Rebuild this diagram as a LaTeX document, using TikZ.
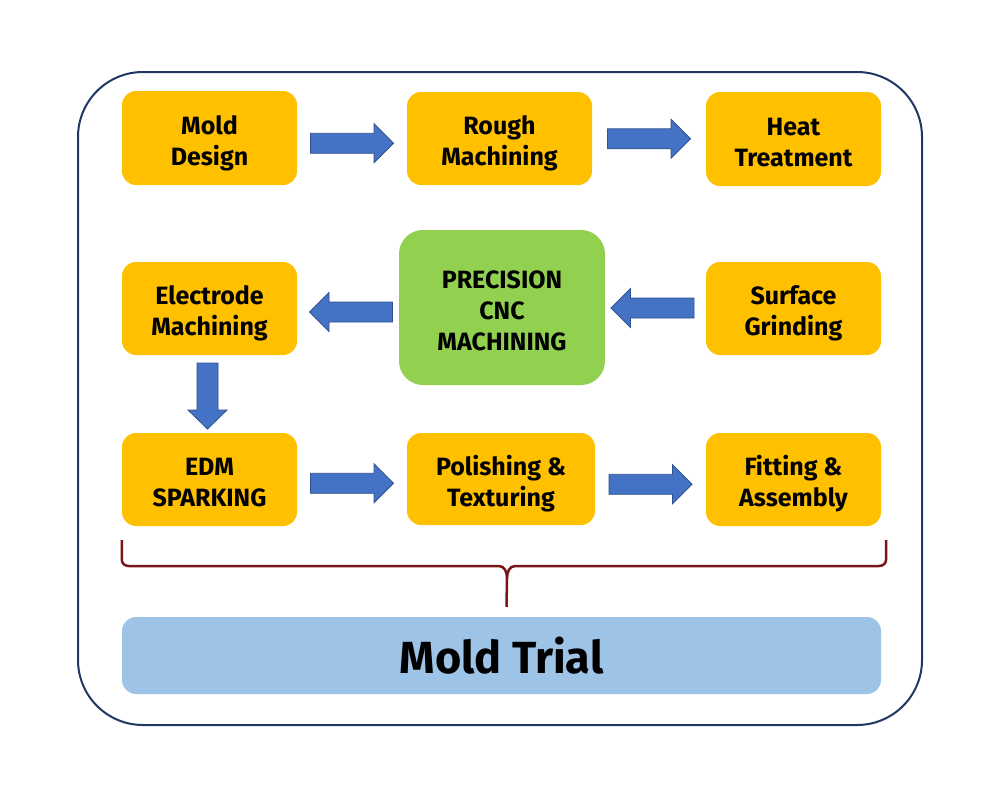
\documentclass[tikz,border=0pt]{standalone}
\usepackage{fontspec}
\setmainfont{Fira Sans}
\usetikzlibrary{calc}
\definecolor{boxorange}{HTML}{FFC000}
\definecolor{boxgreen}{HTML}{92D050}
\definecolor{arrowblue}{HTML}{4472C4}
\definecolor{arrowedge}{HTML}{2F528F}
\definecolor{trialblue}{HTML}{9DC3E6}
\definecolor{framenavy}{HTML}{1F3864}
\definecolor{bracered}{HTML}{7A1518}
\newcommand{\lowtext}[1]{\raisebox{-12pt}[0pt][0pt]{\begin{tabular}{@{}c@{}}#1\end{tabular}}}
\tikzset{
  stepbox/.style={fill=boxorange, rounded corners=14pt, minimum width=175pt, minimum height=94pt,
    align=center, inner sep=0pt, font=\fontsize{25}{31}\selectfont\bfseries},
  cncbox/.style={stepbox, fill=boxgreen, minimum width=206pt, minimum height=155pt, rounded corners=24pt},
  trialbox/.style={fill=trialblue, rounded corners=14pt, minimum width=759pt, minimum height=77pt,
    inner sep=0pt, font=\fontsize{45}{50}\selectfont\bfseries},
  barrow/.pic={\filldraw[fill=arrowblue, draw=arrowedge, line width=0.8pt, line join=miter]
    (-41.5,-10) -- (22,-10) -- (22,-19.5) -- (41.5,0) -- (22,19.5) -- (22,10) -- (-41.5,10) -- cycle;},
  sarrow/.pic={\filldraw[fill=arrowblue, draw=arrowedge, line width=0.8pt, line join=miter]
    (-33,-10.5) -- (14,-10.5) -- (14,-19.5) -- (33,0) -- (14,19.5) -- (14,10.5) -- (-33,10.5) -- cycle;},
}
\begin{document}
\begin{tikzpicture}[x=1pt, y=-1pt]
\useasboundingbox (0,0) rectangle (1000,800);
\fill[white] (0,0) rectangle (1000,800);
\draw[framenavy, line width=2pt, rounded corners=65pt] (78,72) rectangle (922,725);
\setlength{\tabcolsep}{0pt}\renewcommand{\arraystretch}{1.0}

\node[stepbox] (md) at (209.5,138) {\lowtext{Mold\\Design}};
\node[stepbox, minimum width=185pt, minimum height=93pt] (rm) at (499.5,138.5) {\lowtext{Rough\\Machining}};
\node[stepbox] (ht) at (793.5,139) {\lowtext{Heat\\Treatment}};
\node[stepbox, minimum height=93pt] (em) at (209.5,308.5) {\lowtext{Electrode\\Machining}};
\node[cncbox] (cnc) at (502,307.5) {\lowtext{PRECISION\\CNC\\MACHINING}};
\node[stepbox, minimum height=93pt] (sg) at (793.5,308.5) {\lowtext{Surface\\Grinding}};
\node[stepbox, minimum height=93pt] (edm) at (209.5,479.5) {\lowtext{EDM\\SPARKING}};
\node[stepbox, minimum width=188pt, minimum height=92pt] (pt) at (501,479) {\lowtext{Polishing \&\\Texturing}};
\node[stepbox, minimum height=93pt] (fa) at (793.5,479.5) {\lowtext{Fitting \&\\Assembly}};
\node[trialbox] (mt) at (501.5,655.5) {Mold Trial};

\pic at ($(md.east)!0.5!(rm.west)+(0,5)$) {barrow};
\pic at ($(rm.east)!0.5!(ht.west)+(0,0)$) {barrow};
\pic[rotate=180] at ($(cnc.west)!0.5!(em.east)+(3,4)$) {barrow};
\pic[rotate=180] at ($(sg.west)!0.5!(cnc.east)+(-3,0)$) {barrow};
\pic[rotate=-90] at ($(em.south)!0.5!(edm.north)+(-2,2)$) {sarrow};
\pic at ($(edm.east)!0.5!(pt.west)+(0,4)$) {barrow};
\pic at ($(pt.east)!0.5!(fa.west)+(0,5)$) {barrow};

\coordinate (bl) at (edm.south west |- 0,540);
\coordinate (br) at (886,540);
\coordinate (tip) at ($(mt.north)+(5,-10)$);
\draw[bracered, line width=2.5pt, line join=round]
  (bl) -- ++(0,20) to[out=-90,in=180] ++(7,6) -- (499,566) to[out=0,in=90] (507,578) -- (tip);
\draw[bracered, line width=2.5pt, line join=round]
  (br) -- ++(0,20) to[out=-90,in=0] ++(-7,6) -- (515,566) to[out=180,in=90] (507,578);
\end{tikzpicture}
\end{document}
